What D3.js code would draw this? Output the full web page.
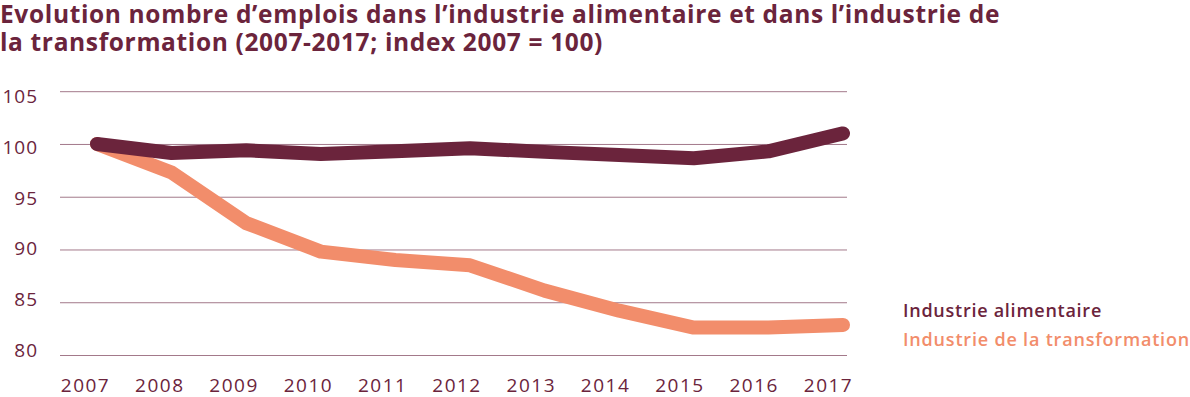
<!DOCTYPE html>
<html>
<head>
<meta charset="utf-8">
<script src="https://cdn.jsdelivr.net/npm/d3@7.9.0/dist/d3.min.js"></script>
<style>
  body { margin: 0; background: #fff; }
  svg { display: block; font-family: "Open Sans", Lato, sans-serif; }
</style>
</head>
<body>
<svg id="chart" width="1190" height="397"></svg>
<script>
const years = [2007, 2008, 2009, 2010, 2011, 2012, 2013, 2014, 2015, 2016, 2017];
const alimentaire = [100, 99.15, 99.4, 99.05, 99.3, 99.6, 99.25, 98.95, 98.65, 99.3, 101.0];
const transformation = [100, 97.3, 92.5, 89.8, 89.0, 88.5, 86.1, 84.2, 82.6, 82.6, 82.85];
const yTicks = [80, 85, 90, 95, 100, 105];
const titleLines = [
  'Evolution nombre d’emplois dans l’industrie alimentaire et dans l’industrie de',
  'la transformation (2007-2017; index 2007 = 100)'
];
const seriesNames = ['Industrie alimentaire', 'Industrie de la transformation'];

const maroon = '#6b243c';
const orange = '#f28d6b';

const svg = d3.select('#chart');

const x = d3.scaleLinear().domain([2007, 2017]).range([97, 843]);
const y = d3.scaleLinear().domain([80, 105]).range([355, 91.2]);

// stretch text to a target width with letter-spacing
function fitWidth(sel, target) {
  const n = sel.text().length;
  const w = sel.node().getComputedTextLength();
  sel.attr('letter-spacing', (target - w) / n);
}

// title
const title = svg.append('g')
  .selectAll('text')
  .data(titleLines)
  .join('text')
  .attr('x', 0)
  .attr('y', (d, i) => 23 + i * 28)
  .attr('fill', maroon)
  .attr('font-size', 24.5)
  .attr('font-weight', 700)
  .text(d => d);
const w0 = title.node().getComputedTextLength();
title.attr('letter-spacing', (1000 - w0) / titleLines[0].length);

// gridlines + y labels (labels sit a bit off the lines, as in the source)
const yAxis = svg.append('g')
  .attr('transform', 'translate(60,0)')
  .call(d3.axisLeft(y).tickValues(yTicks).tickSize(-787).tickPadding(22));
yAxis.select('.domain').remove();
yAxis.selectAll('.tick line').attr('stroke', '#a3798a').attr('stroke-width', 1);
yAxis.selectAll('.tick text')
  .attr('fill', maroon)
  .attr('font-size', 19)
  .attr('font-family', '"Open Sans", sans-serif')
  .attr('letter-spacing', 1)
  .attr('dy', d => (6.8 + 4.5 - (105 - d) / 25 * 10) + 'px');

// x labels
const xAxis = svg.append('g')
  .attr('transform', 'translate(0,373)')
  .call(d3.axisBottom(x).tickValues(years).tickFormat(d3.format('d')).tickSize(0).tickPadding(0));
xAxis.select('.domain').remove();
xAxis.selectAll('.tick text')
  .attr('fill', maroon)
  .attr('font-size', 19)
  .attr('font-family', '"Open Sans", sans-serif')
  .attr('letter-spacing', 1.5)
  .attr('dx', d => -12 - (d - 2007) * 0.3)
  .attr('dy', '1.0em');

const line = d3.line()
  .x((d, i) => x(years[i]))
  .y(d => y(d));

svg.append('path')
  .datum(transformation)
  .attr('d', line)
  .attr('fill', 'none')
  .attr('stroke', orange)
  .attr('stroke-width', 14)
  .attr('stroke-linecap', 'round')
  .attr('stroke-linejoin', 'round');

svg.append('path')
  .datum(alimentaire)
  .attr('d', line)
  .attr('fill', 'none')
  .attr('stroke', maroon)
  .attr('stroke-width', 14)
  .attr('stroke-linecap', 'round')
  .attr('stroke-linejoin', 'round');

// legend
const legendWidths = [199, 287];
svg.append('g')
  .selectAll('text')
  .data(seriesNames)
  .join('text')
  .attr('x', 903)
  .attr('y', (d, i) => 317 + i * 29)
  .attr('fill', (d, i) => i === 0 ? maroon : orange)
  .attr('font-size', 18)
  .attr('font-weight', 600)
  .text(d => d)
  .each(function(d, i) { fitWidth(d3.select(this), legendWidths[i]); });
</script>
</body>
</html>
